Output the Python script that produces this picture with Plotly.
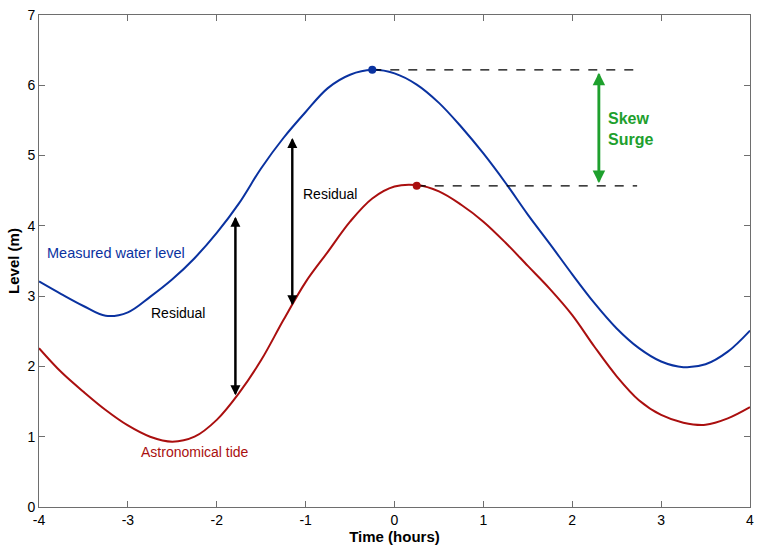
import plotly.graph_objects as go

# time axis (hours), shared by both series
time_h = [-4.0, -3.75, -3.5, -3.25, -3.0, -2.75, -2.5, -2.25, -2.0, -1.75, -1.5, -1.25, -1.0,
          -0.75, -0.5, -0.25, 0.0, 0.25, 0.5, 0.75, 1.0, 1.25, 1.5, 1.75, 2.0, 2.25, 2.5,
          2.75, 3.0, 3.25, 3.5, 3.75, 4.0]

# measured water level (blue)
measured = [3.21, 3.03, 2.86, 2.72, 2.77, 2.99, 3.24, 3.54, 3.90, 4.32, 4.82, 5.25, 5.62,
            5.96, 6.15, 6.22, 6.17, 6.01, 5.75, 5.41, 5.03, 4.61, 4.16, 3.74, 3.31, 2.90, 2.54,
            2.26, 2.07, 1.99, 2.03, 2.21, 2.51]

# astronomical tide (red)
tide = [2.26, 1.92, 1.64, 1.38, 1.16, 1.00, 0.93, 1.00, 1.24, 1.62, 2.09, 2.66, 3.20,
        3.63, 4.06, 4.39, 4.56, 4.58, 4.49, 4.30, 4.06, 3.76, 3.43, 3.10, 2.73, 2.28, 1.86,
        1.52, 1.31, 1.20, 1.17, 1.26, 1.42]

peak_meas = (-0.25, 6.22)
peak_tide = (0.25, 4.57)
dash_end = 2.73
skew_x = 2.30
residuals = [(-1.79, 1.59, 4.13), (-1.15, 2.87, 5.25)]

x_ticks = [-4, -3, -2, -1, 0, 1, 2, 3, 4]
y_ticks = [0, 1, 2, 3, 4, 5, 6, 7]

BLUE = "rgb(10,50,160)"
RED = "rgb(170,15,15)"
GREEN = "rgb(30,160,45)"
AXC = "rgb(110,110,110)"

fig = go.Figure()
fig.add_trace(go.Scatter(x=time_h, y=measured, mode="lines",
                         line=dict(color=BLUE, width=2, shape="spline", smoothing=1.0)))
fig.add_trace(go.Scatter(x=time_h, y=tide, mode="lines",
                         line=dict(color=RED, width=2, shape="spline", smoothing=1.0)))

for (px, py), col in [(peak_meas, BLUE), (peak_tide, RED)]:
    fig.add_trace(go.Scatter(x=[px, dash_end], y=[py, py], mode="lines",
                             line=dict(color="black", width=1.3, dash="dash")))
    fig.add_trace(go.Scatter(x=[px], y=[py], mode="markers", marker=dict(color=col, size=8)))

annots = []
for x, y0, y1 in residuals:
    for ya, yb in [(y1, y0), (y0, y1)]:
        annots.append(dict(x=x, y=ya, ax=x, ay=yb, xref="x", yref="y", axref="x", ayref="y",
                           showarrow=True, arrowhead=2, arrowsize=1, arrowwidth=2,
                           arrowcolor="black", text=""))
for ya, yb in [(6.18, 4.61), (4.61, 6.18)]:
    annots.append(dict(x=skew_x, y=ya, ax=skew_x, ay=yb, xref="x", yref="y", axref="x", ayref="y",
                       showarrow=True, arrowhead=2, arrowsize=1, arrowwidth=2.5,
                       arrowcolor=GREEN, text=""))

annots += [
    dict(x=2.38, y=5.38, text="<b>Skew<br>Surge</b>", showarrow=False, xanchor="left",
         font=dict(color=GREEN, size=16), align="left"),
    dict(x=-2.44, y=2.76, text="Residual", showarrow=False, font=dict(color="black", size=14)),
    dict(x=-0.73, y=4.46, text="Residual", showarrow=False, font=dict(color="black", size=14)),
    dict(x=-3.93, y=3.61, text="Measured water level", showarrow=False, xanchor="left",
         font=dict(color=BLUE, size=14.5)),
    dict(x=-2.88, y=0.78, text="Astronomical tide", showarrow=False, xanchor="left",
         font=dict(color=RED, size=14)),
]

axis_style = dict(showgrid=False, zeroline=False, showline=True, mirror="ticks",
                  linecolor=AXC, linewidth=1, ticks="inside", ticklen=6, tickcolor=AXC,
                  tickfont=dict(size=14, color="black"), automargin=False)

fig.update_layout(
    width=765, height=551,
    margin=dict(l=39, r=15, t=15, b=44),
    paper_bgcolor="white", plot_bgcolor="white",
    showlegend=False,
    font=dict(family="Liberation Sans, Arial, sans-serif", color="black"),
    xaxis=dict(range=[-4, 4], tickvals=x_ticks, ticktext=[str(v) for v in x_ticks],
               title=dict(text="<b>Time (hours)</b>", font=dict(size=15), standoff=4), **axis_style),
    yaxis=dict(range=[0, 7], tickvals=y_ticks, ticktext=[str(v) for v in y_ticks],
               title=dict(text="<b>Level (m)</b>", font=dict(size=15), standoff=4), **axis_style),
    annotations=annots,
)

# drop the browser's default body margin so the figure sits at the page corner
fig.write_html("out.html", config={"displayModeBar": False},
               post_script="document.body.style.margin='0';")
